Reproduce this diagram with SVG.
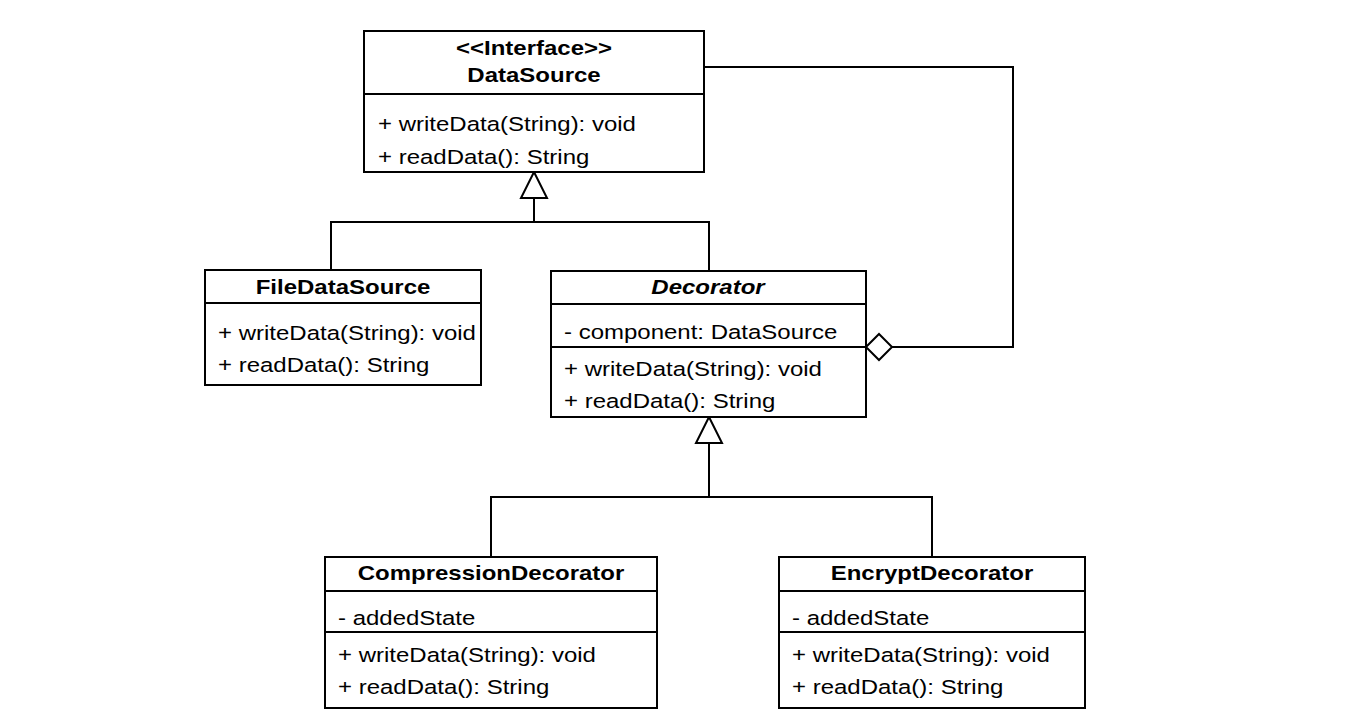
<svg xmlns="http://www.w3.org/2000/svg" width="1354" height="722" viewBox="0 0 1354 722">
<style>
  .box { fill: #ffffff; stroke: #000000; stroke-width: 2; }
  .div { stroke: #000000; stroke-width: 2; fill: none; }
  .t { font-family: "Liberation Sans", Arial, Helvetica, sans-serif; font-size: 24px; fill: #000000; }
  .b { font-weight: bold; text-anchor: middle; }
  .i { font-style: italic; }
  .edge { stroke: #000000; stroke-width: 2; fill: none; }
  .tri { fill: #ffffff; stroke: #000000; stroke-width: 2; }
</style>
<rect width="1354" height="722" fill="#ffffff"/>
<g id="connectors">
  <polyline class="edge" points="704,67 1013,67 1013,347 892,347"/>
  <polygon class="tri" points="866,347 879,334 892,347 879,360"/>
  <polyline class="edge" points="534,198 534,222"/>
  <polyline class="edge" points="331,270 331,222 709,222 709,271"/>
  <polygon class="tri" points="534,172 547,198 521,198"/>
  <polyline class="edge" points="709,443 709,497"/>
  <polyline class="edge" points="491,557 491,497 932,497 932,557"/>
  <polygon class="tri" points="709,417 722,443 696,443"/>
</g>
<g id="DataSource">
  <rect class="box" x="364" y="31" width="340" height="141"/>
  <line class="div" x1="364" y1="94" x2="704" y2="94"/>
  <text class="t b" transform="matrix(1 0 0 0.88 534 55)">&lt;&lt;Interface&gt;&gt;</text>
  <text class="t b" transform="matrix(1 0 0 0.88 534 82)">DataSource</text>
  <text class="t" transform="matrix(1 0 0 0.88 378 131)">+ writeData(String): void</text>
  <text class="t" transform="matrix(1 0 0 0.88 378 164)">+ readData(): String</text>
</g>
<g id="FileDataSource">
  <rect class="box" x="205" y="270" width="276" height="115"/>
  <line class="div" x1="205" y1="303" x2="481" y2="303"/>
  <text class="t b" transform="matrix(1 0 0 0.88 343 294)">FileDataSource</text>
  <text class="t" transform="matrix(1 0 0 0.88 218 340)">+ writeData(String): void</text>
  <text class="t" transform="matrix(1 0 0 0.88 218 372)">+ readData(): String</text>
</g>
<g id="Decorator">
  <rect class="box" x="551" y="271" width="315" height="146"/>
  <line class="div" x1="551" y1="304" x2="866" y2="304"/>
  <line class="div" x1="551" y1="347" x2="866" y2="347"/>
  <text class="t b i" transform="matrix(1 0 0 0.88 708 294)">Decorator</text>
  <text class="t" transform="matrix(1 0 0 0.88 564 339)">- component: DataSource</text>
  <text class="t" transform="matrix(1 0 0 0.88 564 376)">+ writeData(String): void</text>
  <text class="t" transform="matrix(1 0 0 0.88 564 408)">+ readData(): String</text>
</g>
<g id="CompressionDecorator">
  <rect class="box" x="325" y="557" width="332" height="151"/>
  <line class="div" x1="325" y1="591" x2="657" y2="591"/>
  <line class="div" x1="325" y1="632" x2="657" y2="632"/>
  <text class="t b" transform="matrix(1 0 0 0.88 491 580)">CompressionDecorator</text>
  <text class="t" transform="matrix(1 0 0 0.88 338 625)">- addedState</text>
  <text class="t" transform="matrix(1 0 0 0.88 338 662)">+ writeData(String): void</text>
  <text class="t" transform="matrix(1 0 0 0.88 338 694)">+ readData(): String</text>
</g>
<g id="EncryptDecorator">
  <rect class="box" x="779" y="557" width="306" height="151"/>
  <line class="div" x1="779" y1="591" x2="1085" y2="591"/>
  <line class="div" x1="779" y1="632" x2="1085" y2="632"/>
  <text class="t b" transform="matrix(1 0 0 0.88 932 580)">EncryptDecorator</text>
  <text class="t" transform="matrix(1 0 0 0.88 792 625)">- addedState</text>
  <text class="t" transform="matrix(1 0 0 0.88 792 662)">+ writeData(String): void</text>
  <text class="t" transform="matrix(1 0 0 0.88 792 694)">+ readData(): String</text>
</g>
</svg>
